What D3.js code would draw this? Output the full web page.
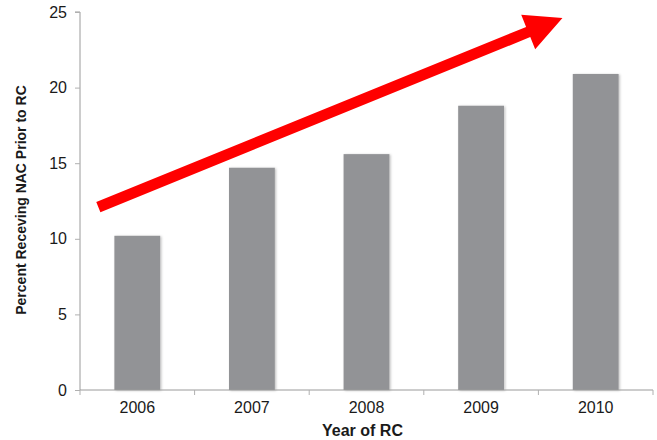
<!DOCTYPE html>
<html>
<head>
<meta charset="utf-8">
<script src="https://cdn.jsdelivr.net/npm/d3@7/dist/d3.min.js"></script>
<style>
  html, body { margin: 0; padding: 0; background: #fff; }
  svg { display: block; }
  text { font-family: "Liberation Sans", Arial, sans-serif; fill: #1a1a1a; }
</style>
</head>
<body>
<svg id="chart" width="657" height="440"></svg>
<script>
// Share of patients receiving NAC prior to RC, by year
const years = ["2006", "2007", "2008", "2009", "2010"];
const percents = [10.2, 14.7, 15.6, 18.8, 20.9];
const yTicks = [0, 5, 10, 15, 20, 25];

// Trend arrow endpoints: [category position (0..5), percent]
const trendFrom = [0.16, 12.1];
const trendTo = [4.21, 24.6];

const svg = d3.select("#chart");
const margin = { left: 80, right: 4, top: 12, bottom: 50 };
const W = 657, H = 440;

const x = d3.scaleBand()
  .domain(years)
  .range([margin.left, W - margin.right])
  .paddingInner(0.6)
  .paddingOuter(0.3);

const y = d3.scaleLinear()
  .domain([0, 25])
  .range([H - margin.bottom, margin.top]);

// continuous position along the category axis, used for the trend arrow
const xPos = d3.scaleLinear()
  .domain([0, years.length])
  .range(x.range());

// soft edge shadow on bars
const defs = svg.append("defs");
const f = defs.append("filter").attr("id", "barShadow")
  .attr("x", "-10%").attr("y", "-5%").attr("width", "130%").attr("height", "115%");
f.append("feDropShadow").attr("dx", 1.2).attr("dy", 0.6).attr("stdDeviation", 0.8)
  .attr("flood-color", "#000").attr("flood-opacity", 0.25);

// bars
svg.append("g").selectAll("rect")
  .data(years)
  .join("rect")
  .attr("x", d => x(d))
  .attr("y", (d, i) => y(percents[i]))
  .attr("width", x.bandwidth())
  .attr("height", (d, i) => y(0) - y(percents[i]))
  .attr("fill", "#929396")
  .attr("filter", "url(#barShadow)");

// y axis
const yAxis = svg.append("g")
  .attr("transform", `translate(${margin.left},0)`)
  .call(d3.axisLeft(y).tickValues(yTicks).tickSize(5).tickPadding(8).tickFormat(d3.format("d")));
yAxis.select(".domain").attr("stroke", "#9a9a9a").attr("d", `M-5,${y(25)}H0V${y(0)}`);
yAxis.selectAll(".tick line").attr("stroke", "#b0b0b0");
yAxis.selectAll(".tick text").attr("font-size", 16).style("fill", "#1a1a1a");

// x axis with ticks at band boundaries
const xAxis = svg.append("g")
  .attr("transform", `translate(0,${y(0)})`)
  .call(d3.axisBottom(x).tickSize(0).tickPadding(12));
xAxis.select(".domain").attr("stroke", "#9a9a9a").attr("d", `M${margin.left},0H${W - margin.right}`);
xAxis.selectAll(".tick text").attr("font-size", 16).style("fill", "#1a1a1a");
const bounds = d3.range(years.length + 1).map(i => xPos(i));
xAxis.append("g").selectAll("line")
  .data(bounds)
  .join("line")
  .attr("x1", d => d).attr("x2", d => d)
  .attr("y1", 0).attr("y2", 5)
  .attr("stroke", "#b0b0b0");

// axis titles
svg.append("text")
  .attr("transform", `translate(26,${(y(0) + y(25)) / 2 - 1}) rotate(-90)`)
  .attr("text-anchor", "middle")
  .attr("font-size", 14)
  .attr("font-weight", "bold")
  .text("Percent Receving NAC Prior to RC");

svg.append("text")
  .attr("x", (margin.left + W - margin.right) / 2 - 4)
  .attr("y", 436)
  .attr("text-anchor", "middle")
  .attr("font-size", 16)
  .attr("font-weight", "bold")
  .text("Year of RC");

// red trend arrow
const x0 = xPos(trendFrom[0]), y0 = y(trendFrom[1]);
const x1 = xPos(trendTo[0]), y1 = y(trendTo[1]);
const ang = Math.atan2(y1 - y0, x1 - x0);
const len = Math.hypot(x1 - x0, y1 - y0);
const shaft = 11, headLen = 37, headW = 37;
const arrowPath = [
  [0, -shaft / 2], [len - headLen, -shaft / 2], [len - headLen, -headW / 2],
  [len, 0],
  [len - headLen, headW / 2], [len - headLen, shaft / 2], [0, shaft / 2]
];
svg.append("path")
  .attr("d", d3.line()(arrowPath) + "Z")
  .attr("transform", `translate(${x0},${y0}) rotate(${ang * 180 / Math.PI})`)
  .attr("fill", "#ff0000");
</script>
</body>
</html>
